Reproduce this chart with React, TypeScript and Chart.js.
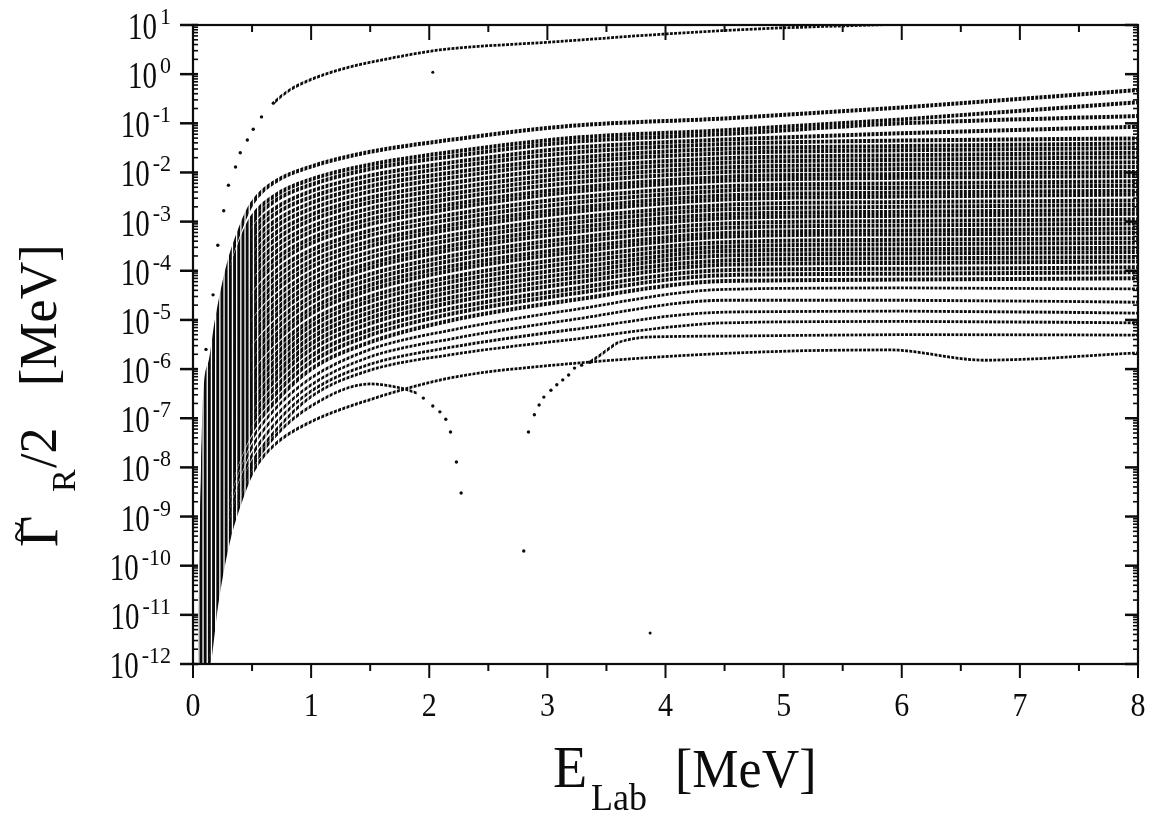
import React, { useEffect, useRef } from 'react';
import { Chart, registerables } from 'chart.js';

Chart.register(...registerables);

// ---------------- data (values are log10 of Γ_R/2 in MeV) ----------------
const xKnots = [0.06, 0.1, 0.15, 0.2, 0.3, 0.4, 0.5, 0.7, 1.0, 1.5, 2.2, 3.2, 4.5, 6, 8];

const bandUpperLog: number[][] = [
  [-11.23, -6.63, -5.83, -5.03, -3.88, -3.15, -2.63, -2.18, -1.88, -1.58, -1.33, -1.05, -0.90, -0.68, -0.32],
  [-11.52, -6.92, -6.11, -5.31, -4.16, -3.43, -2.91, -2.46, -2.14, -1.84, -1.58, -1.30, -1.14, -0.92, -0.57],
  [-11.65, -7.05, -6.24, -5.43, -4.28, -3.55, -3.03, -2.57, -2.25, -1.93, -1.67, -1.38, -1.22, -1.00, -0.85],
  [-11.82, -7.21, -6.39, -5.58, -4.42, -3.70, -3.18, -2.72, -2.38, -2.06, -1.79, -1.50, -1.33, -1.20, -1.07],
  [-11.96, -7.34, -6.52, -5.71, -4.55, -3.83, -3.31, -2.84, -2.50, -2.17, -1.89, -1.60, -1.42, -1.35, -1.31],
  [-12.11, -7.49, -6.66, -5.85, -4.69, -3.97, -3.45, -2.98, -2.62, -2.28, -2.00, -1.71, -1.52, -1.46, -1.41],
  [-12.25, -7.63, -6.80, -5.98, -4.82, -4.09, -3.58, -3.10, -2.74, -2.39, -2.10, -1.80, -1.61, -1.55, -1.50],
  [-12.40, -7.78, -6.94, -6.12, -4.96, -4.23, -3.72, -3.23, -2.86, -2.51, -2.21, -1.91, -1.71, -1.65, -1.60],
  [-12.54, -7.92, -7.07, -6.25, -5.08, -4.36, -3.85, -3.36, -2.97, -2.61, -2.32, -2.01, -1.80, -1.74, -1.69],
  [-12.69, -8.07, -7.21, -6.39, -5.22, -4.50, -3.99, -3.49, -3.10, -2.73, -2.43, -2.11, -1.90, -1.84, -1.79],
  [-12.84, -8.21, -7.34, -6.51, -5.35, -4.63, -4.11, -3.62, -3.21, -2.84, -2.53, -2.21, -1.99, -1.93, -1.89],
  [-12.99, -8.35, -7.49, -6.65, -5.49, -4.77, -4.25, -3.75, -3.34, -2.95, -2.64, -2.32, -2.09, -2.03, -1.99],
];

const bandMiddleLog: number[][] = [
  [-13.12, -8.48, -7.61, -6.77, -5.61, -4.89, -4.37, -3.87, -3.44, -3.05, -2.73, -2.40, -2.17, -2.11, -2.07],
  [-13.28, -8.64, -7.76, -6.92, -5.75, -5.03, -4.52, -4.01, -3.58, -3.18, -2.85, -2.52, -2.28, -2.22, -2.18],
  [-13.42, -8.78, -7.89, -7.05, -5.88, -5.16, -4.65, -4.14, -3.69, -3.28, -2.95, -2.62, -2.37, -2.31, -2.27],
  [-13.57, -8.93, -8.04, -7.19, -6.02, -5.30, -4.79, -4.27, -3.81, -3.40, -3.06, -2.73, -2.47, -2.41, -2.37],
  [-13.71, -9.06, -8.16, -7.31, -6.14, -5.42, -4.91, -4.39, -3.92, -3.50, -3.15, -2.81, -2.55, -2.49, -2.45],
  [-13.87, -9.21, -8.31, -7.46, -6.28, -5.57, -5.06, -4.53, -4.05, -3.62, -3.27, -2.93, -2.66, -2.60, -2.57],
  [-14.01, -9.35, -8.44, -7.59, -6.41, -5.70, -5.19, -4.66, -4.17, -3.73, -3.37, -3.03, -2.75, -2.70, -2.66],
  [-14.16, -9.50, -8.59, -7.73, -6.55, -5.84, -5.33, -4.79, -4.29, -3.85, -3.48, -3.13, -2.85, -2.80, -2.76],
  [-14.29, -9.63, -8.71, -7.85, -6.67, -5.96, -5.45, -4.91, -4.40, -3.94, -3.57, -3.22, -2.93, -2.88, -2.84],
  [-14.45, -9.79, -8.86, -8.00, -6.82, -6.10, -5.60, -5.05, -4.53, -4.07, -3.69, -3.34, -3.04, -2.99, -2.95],
  [-14.59, -9.93, -8.99, -8.13, -6.94, -6.23, -5.73, -5.18, -4.64, -4.18, -3.79, -3.43, -3.13, -3.08, -3.04],
  [-14.75, -10.08, -9.14, -8.27, -7.08, -6.37, -5.87, -5.31, -4.77, -4.29, -3.90, -3.54, -3.23, -3.18, -3.14],
];

const bandLowerLog: number[][] = [
  [-14.88, -10.20, -9.26, -8.39, -7.20, -6.49, -5.99, -5.43, -4.87, -4.39, -3.99, -3.63, -3.31, -3.26, -3.23],
  [-15.04, -10.36, -9.41, -8.54, -7.35, -6.64, -6.14, -5.57, -5.01, -4.52, -4.12, -3.74, -3.42, -3.37, -3.34],
  [-15.18, -10.50, -9.54, -8.66, -7.48, -6.77, -6.26, -5.70, -5.12, -4.62, -4.22, -3.84, -3.51, -3.46, -3.43],
  [-15.33, -10.65, -9.69, -8.80, -7.61, -6.91, -6.40, -5.83, -5.24, -4.74, -4.33, -3.95, -3.60, -3.56, -3.53],
  [-15.47, -10.79, -9.82, -8.93, -7.74, -7.04, -6.53, -5.96, -5.36, -4.85, -4.43, -4.05, -3.69, -3.65, -3.62],
  [-15.62, -10.94, -9.96, -9.07, -7.88, -7.18, -6.67, -6.09, -5.48, -4.96, -4.54, -4.15, -3.79, -3.75, -3.72],
  [-15.77, -11.07, -10.09, -9.20, -8.01, -7.30, -6.80, -6.22, -5.60, -5.07, -4.64, -4.25, -3.88, -3.84, -3.81],
  [-15.93, -11.23, -10.25, -9.35, -8.15, -7.45, -6.95, -6.36, -5.73, -5.20, -4.76, -4.37, -3.99, -3.96, -3.93],
  [-16.08, -11.38, -10.39, -9.49, -8.29, -7.59, -7.09, -6.50, -5.86, -5.31, -4.87, -4.47, -4.09, -4.06, -4.03],
  [-16.25, -11.55, -10.55, -9.65, -8.45, -7.75, -7.25, -6.65, -6.00, -5.45, -5.00, -4.60, -4.21, -4.18, -4.15],
];

const sparseLog: number[][] = [
  [-16.5, -11.8, -10.8, -9.85, -8.65, -7.95, -7.42, -6.80, -6.18, -5.60, -5.20, -4.80, -4.38, -4.35, -4.37],
  [-16.7, -12.0, -11.0, -10.05, -8.85, -8.12, -7.58, -6.95, -6.32, -5.75, -5.38, -5.00, -4.60, -4.60, -4.64],
  [-16.9, -12.2, -11.2, -10.25, -9.05, -8.30, -7.75, -7.10, -6.45, -5.90, -5.55, -5.20, -4.84, -4.82, -4.86],
  [-17.1, -12.4, -11.4, -10.45, -9.25, -8.45, -7.90, -7.25, -6.56, -6.02, -5.70, -5.40, -5.06, -5.03, -5.06],
];

// curve that passes through zero twice (near 2.3 and 2.8 MeV)
const vCurveX = [0.06, 0.1, 0.15, 0.2, 0.3, 0.4, 0.5, 0.7, 1.0, 1.5, 1.75, 1.9];
const vCurveLog = [-17.4, -12.6, -11.6, -10.6, -9.35, -8.55, -8.0, -7.35, -6.75, -6.30, -6.38, -6.49];
const vDipX = [1.95, 2.03, 2.09, 2.14, 2.18, 2.23, 2.27, 2.80, 2.84, 2.89, 2.93, 2.97, 3.03, 3.08, 3.13, 3.18, 3.23, 3.29, 3.36];
const vDipLog = [-6.59, -6.75, -6.87, -7.02, -7.28, -7.89, -8.52, -9.70, -7.28, -6.93, -6.73, -6.57, -6.43, -6.32, -6.22, -6.12, -5.98, -5.92, -5.86];
const vTailX = [3.36, 3.45, 3.53, 3.59, 3.67, 3.84, 4.5, 6, 8];
const vTailLog = [-5.86, -5.71, -5.57, -5.47, -5.41, -5.35, -5.33, -5.30, -5.31];

const lowestX = [0.06, 0.1, 0.15, 0.2, 0.3, 0.4, 0.5, 0.7, 1.0, 1.5, 2.2, 3.2, 4.5, 5.9, 6.7, 8];
const lowestLog = [-17.72, -12.92, -11.82, -10.82, -9.52, -8.72, -8.12, -7.52, -7.07, -6.62, -6.17, -5.89, -5.68, -5.61, -5.82, -5.67];

const topCurveX = [0.11, 0.17, 0.21, 0.26, 0.30, 0.36, 0.40, 0.46, 0.51, 0.58, 0.68, 0.82, 1.05, 1.33, 1.73, 2.07, 3.02, 4.01, 4.97, 6.0, 7.0, 8.0];
const topCurveLog = [-5.6, -4.49, -3.48, -2.78, -2.26, -1.89, -1.60, -1.34, -1.12, -0.87, -0.59, -0.32, -0.06, 0.15, 0.35, 0.49, 0.65, 0.82, 0.94, 1.02, 1.08, 1.12];

const strayX = [2.03, 3.87];
const strayLog = [0.04, -11.37];

const xTickValues = [0, 1, 2, 3, 4, 5, 6, 7, 8];
const xMinorValues = [0.5, 1.5, 2.5, 3.5, 4.5, 5.5, 6.5, 7.5];
const yTickExponents = [1, 0, -1, -2, -3, -4, -5, -6, -7, -8, -9, -10, -11, -12];
const yMinorFactors = [2, 3, 4, 5, 6, 7, 8, 9];

// ---------------- drawing ----------------
const INK = '#0c0c0c';
const SERIF = '"Liberation Serif", "Times New Roman", serif';
const STEEP_END = 0.68; // top curve: separate dots up to here

const pts = (xs: number[], logs: number[]) => xs.map((x, i) => ({ x, y: Math.pow(10, logs[i]) }));

const curve = (label: string, xs: number[], logs: number[], width: number, extra: any = {}) => ({
  label,
  data: pts(xs, logs),
  showLine: true,
  borderColor: INK,
  backgroundColor: INK,
  borderWidth: width,
  pointRadius: 0,
  fill: false,
  cubicInterpolationMode: 'monotone',
  order: 10,
  ...extra,
});

const dots = (label: string, xs: number[], logs: number[], r: number) => ({
  label,
  data: pts(xs, logs),
  showLine: false,
  pointRadius: r,
  pointBorderWidth: 0,
  pointBackgroundColor: INK,
  order: 0,
});

function stretchedText(ctx: CanvasRenderingContext2D, text: string, x: number, y: number, font: string, sy: number, align: CanvasTextAlign = 'left') {
  ctx.save();
  ctx.font = font;
  ctx.textAlign = align;
  ctx.textBaseline = 'alphabetic';
  ctx.translate(x, y);
  ctx.scale(1, sy);
  ctx.fillText(text, 0, 0);
  ctx.restore();
}

// the curves were sampled on a common energy grid: reproduce the dotted columns
function drawSampleColumns(chart: any) {
  const ctx: CanvasRenderingContext2D = chart.ctx;
  const { left, right, top, bottom } = chart.chartArea;
  ctx.save();
  ctx.fillStyle = '#ffffff';
  for (let x = left + 1; x < right; x += 4.2) {
    ctx.fillRect(x, top, 1.3, bottom - top);
  }
  ctx.restore();
}

const columnPlugin = {
  id: 'sampleColumns',
  beforeDatasetsDraw(chart: any) {
    chart.$colsDone = false;
  },
  beforeDatasetDraw(chart: any, args: any) {
    if (chart.$colsDone) return;
    const ds = chart.data.datasets[args.index];
    if (ds.order === 0) {
      drawSampleColumns(chart);
      chart.$colsDone = true;
    }
  },
  afterDatasetsDraw(chart: any) {
    if (!chart.$colsDone) {
      drawSampleColumns(chart);
      chart.$colsDone = true;
    }
  },
};

const axesPlugin = {
  id: 'sciAxes',
  afterDraw(chart: any) {
    const ctx: CanvasRenderingContext2D = chart.ctx;
    const { left, right, top, bottom } = chart.chartArea;
    const xs = chart.scales.x;
    const ys = chart.scales.y;
    ctx.save();
    ctx.strokeStyle = INK;
    ctx.fillStyle = INK;
    ctx.lineCap = 'butt';
    const seg = (x1: number, y1: number, x2: number, y2: number, w = 2) => {
      ctx.lineWidth = w;
      ctx.beginPath();
      ctx.moveTo(x1, y1);
      ctx.lineTo(x2, y2);
      ctx.stroke();
    };
    ctx.lineWidth = 2.2;
    ctx.strokeRect(left, top, right - left, bottom - top);

    xTickValues.forEach((v) => {
      const px = xs.getPixelForValue(v);
      seg(px, bottom, px, bottom + 14, 2);
      seg(px, top, px, top + 15, 2);
    });
    xMinorValues.forEach((v) => {
      const px = xs.getPixelForValue(v);
      seg(px, bottom, px, bottom + 7, 2);
      seg(px, top, px, top + 7, 2);
    });

    yTickExponents.forEach((e) => {
      const py = ys.getPixelForValue(Math.pow(10, e));
      seg(left - 13, py, left + 5, py, 2.5);
      seg(right - 13, py, right, py, 2.5);
      if (e < 1) {
        yMinorFactors.forEach((m) => {
          const pm = ys.getPixelForValue(m * Math.pow(10, e));
          seg(left, pm, left + 5, pm, 1.6);
          seg(right - 5, pm, right, pm, 1.6);
        });
      }
    });

    xTickValues.forEach((v) => {
      const px = xs.getPixelForValue(v);
      stretchedText(ctx, String(v), px, bottom + 52, '30px ' + SERIF, 1.1, 'center');
    });

    const expFont = '22px ' + SERIF;
    yTickExponents.forEach((e) => {
      const py = ys.getPixelForValue(Math.pow(10, e));
      const expStr = e < 0 ? '-' + Math.abs(e) : String(e);
      ctx.font = expFont;
      const ew = ctx.measureText(expStr).width;
      const expLeft = 171 - ew;
      stretchedText(ctx, expStr, expLeft, py - 1, expFont, 1.05, 'left');
      stretchedText(ctx, '10', expLeft - 3, py + 14, '29px ' + SERIF, 1.3, 'right');
    });

    // x title: E_Lab   [MeV]
    stretchedText(ctx, 'E', 553, 787, '56px ' + SERIF, 1.07, 'left');
    stretchedText(ctx, 'Lab', 591, 810, '36px ' + SERIF, 1.07, 'left');
    stretchedText(ctx, '[MeV]', 675, 787, '52px ' + SERIF, 1.07, 'left');

    // y title (rotated): Γ~_R/2   [MeV]
    const rot = (text: string, bx: number, by: number, font: string) => {
      ctx.save();
      ctx.translate(bx, by);
      ctx.rotate(-Math.PI / 2);
      ctx.font = font;
      ctx.textAlign = 'left';
      ctx.textBaseline = 'alphabetic';
      ctx.fillText(text, 0, 0);
      ctx.restore();
    };
    rot('Γ', 57, 547, '54px ' + SERIF);
    ctx.save();
    ctx.translate(21, 532);
    ctx.rotate(-Math.PI / 2);
    ctx.font = '40px ' + SERIF;
    ctx.textAlign = 'center';
    ctx.textBaseline = 'middle';
    ctx.fillText('~', 0, 0);
    ctx.restore();
    rot('R', 75, 492, '34px ' + SERIF);
    rot('/2', 56, 468, '52px ' + SERIF);
    rot('[MeV]', 56, 386, '52px ' + SERIF);

    ctx.restore();
  },
};

export default function App() {
  const ref = useRef<HTMLCanvasElement | null>(null);

  useEffect(() => {
    if (!ref.current) return;
    const datasets: any[] = [];
    [...bandUpperLog, ...bandMiddleLog, ...bandLowerLog].forEach((c, i) =>
      datasets.push(curve('band ' + (i + 1), xKnots, c, 4.0))
    );
    sparseLog.forEach((c, i) => datasets.push(curve('lower ' + (i + 1), xKnots, c, 2.8)));
    datasets.push(curve('node curve', vCurveX, vCurveLog, 2.8));
    datasets.push(curve('node curve tail', vTailX, vTailLog, 2.8));
    datasets.push(curve('lowest', lowestX, lowestLog, 2.8));
    datasets.push(
      curve('top curve', topCurveX, topCurveLog, 2.8, {
        segment: { borderColor: (s: any) => (s.p1.parsed.x <= STEEP_END ? 'rgba(0,0,0,0)' : undefined) },
      })
    );
    const steepIdx = topCurveX.filter((x) => x <= STEEP_END).length;
    datasets.push(dots('top curve (steep part)', topCurveX.slice(0, steepIdx), topCurveLog.slice(0, steepIdx), 1.7));
    datasets.push(dots('node curve dots', vDipX, vDipLog, 1.7));
    datasets.push(dots('stray', strayX, strayLog, 1.5));

    const chart = new Chart(ref.current, {
      type: 'scatter',
      data: { datasets },
      options: {
        animation: false,
        responsive: false,
        devicePixelRatio: 1,
        events: [],
        layout: { padding: { left: 193, right: 17, top: 25, bottom: 149 } },
        plugins: { legend: { display: false }, tooltip: { enabled: false } },
        scales: {
          x: { type: 'linear', min: 0, max: 8, display: false },
          y: { type: 'logarithmic', min: 1e-12, max: 10, display: false },
        },
      } as any,
      plugins: [columnPlugin, axesPlugin],
    });
    return () => chart.destroy();
  }, []);

  return (
    <div style={{ position: 'absolute', left: 0, top: 0, width: 1155, height: 813, background: '#fff' }}>
      <canvas ref={ref} width={1155} height={813} style={{ display: 'block' }} />
    </div>
  );
}
